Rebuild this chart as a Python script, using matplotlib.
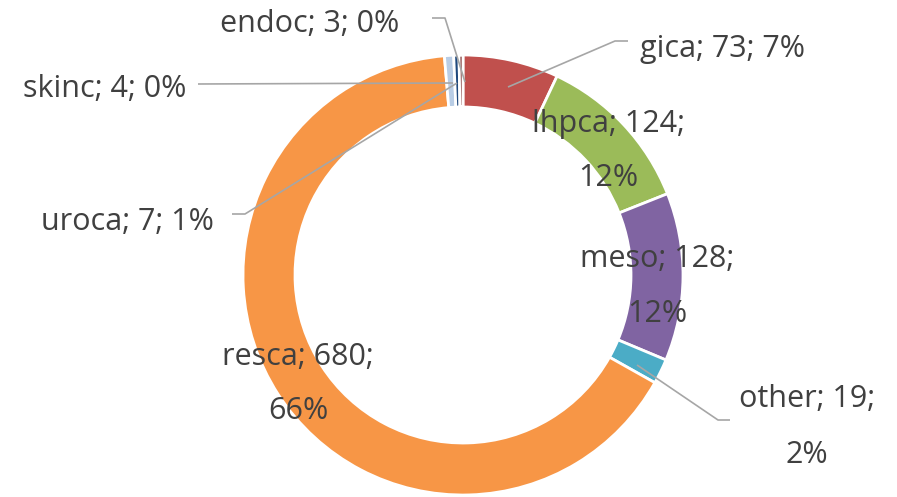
import matplotlib.pyplot as plt
import numpy as np

plt.rcParams['font.family'] = ['Open Sans', 'DejaVu Sans']

# -------------------------- data --------------------------
names = ['gica', 'lhpca', 'meso', 'other', 'resca', 'uroca', 'skinc', 'endoc']
counts = [73, 124, 128, 19, 680, 7, 4, 3]
colors = ['#C0504D', '#9BBB59', '#8064A2', '#4BACC6', '#F79646',
          '#B9CDE5', '#1F497D', '#772C2A']

W, H = 897, 497


def P(x, y):
    # pixel (top-left origin) -> axis coords
    return x, H - y


fig = plt.figure(figsize=(W / 100, H / 100), dpi=100)
ax = fig.add_axes([0, 0, 1, 1])

cx, cy = P(463, 275)
ax.pie(counts, colors=colors, startangle=90, counterclock=False,
       center=(cx, cy), radius=220,
       wedgeprops=dict(width=52, edgecolor='white', linewidth=2))

ax.set_xlim(0, W)
ax.set_ylim(0, H)
ax.set_aspect('equal')
ax.axis('off')

total = sum(counts)
labels = {}
for n, c in zip(names, counts):
    labels[n] = (n, c, int(round(c / total * 100)))

# -------------------------- label layout (pixel coords) --------------------------
# single line labels: name -> (x centre, baseline)
single = {'endoc': (310, 32), 'skinc': (105, 97), 'uroca': (127, 230), 'gica': (722, 57)}
# two line labels: name -> (x centre, baseline1, baseline2)
double = {'lhpca': (608, 132, 186), 'meso': (657, 267, 322),
          'other': (807, 407, 463), 'resca': (298, 365, 419)}

fs = 22
tc = '#404040'
for n, (x, yb) in single.items():
    nm, c, p = labels[n]
    ax.text(*P(x, yb), f'{nm}; {c}; {p}%', ha='center', va='baseline',
            fontsize=fs, color=tc, zorder=5)
for n, (x, y1, y2) in double.items():
    nm, c, p = labels[n]
    ax.text(*P(x, y1), f'{nm}; {c};', ha='center', va='baseline',
            fontsize=fs, color=tc, zorder=5)
    ax.text(*P(x, y2), f'{p}%', ha='center', va='baseline',
            fontsize=fs, color=tc, zorder=5)

# leader lines
leaders = [
    [(432, 18), (445, 18), (465, 82)],
    [(198, 84), (453, 83)],
    [(232, 214), (245, 214), (457, 83)],
    [(628, 41), (615, 41), (508, 87)],
    [(637, 365), (718, 420), (730, 420)],
]
for pts in leaders:
    xs, ys = zip(*[P(*p) for p in pts])
    ax.plot(xs, ys, color='#A6A6A6', linewidth=1.2, zorder=4,
            solid_capstyle='butt')

fig.savefig('out.png', dpi=100)
